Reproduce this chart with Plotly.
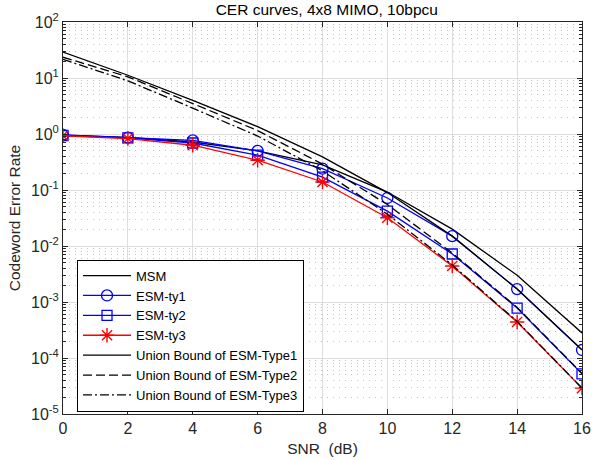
import plotly.graph_objects as go

# SNR points (dB)
snr = [0, 2, 4, 6, 8, 10, 12, 14, 16]

# Simulated codeword error rates
cer_msm = [0.95, 0.87, 0.72, 0.50, 0.28, 0.092, 0.020, 0.0030, 0.00028]
cer_esm_ty1 = [0.96, 0.86, 0.77, 0.50, 0.24, 0.072, 0.015, 0.0017, 0.000139]
cer_esm_ty2 = [0.94, 0.85, 0.69, 0.42, 0.17, 0.042, 0.0072, 0.00078, 0.000052]
cer_esm_ty3 = [0.93, 0.83, 0.63, 0.34, 0.139, 0.032, 0.0044, 0.00044, 0.000029]

# Union bounds
ub_type1 = [29, 11.2, 4.0, 1.35, 0.39, 0.09, 0.015, 0.0017, 0.00014]
ub_type2 = [23.5, 10.5, 3.5, 1.15, 0.29, 0.055, 0.0075, 0.0008, 0.000053]
ub_type3 = [21.5, 8.9, 2.9, 0.92, 0.22, 0.037, 0.0046, 0.00045, 0.000029]

y_tick_vals = [1e-5, 1e-4, 1e-3, 1e-2, 1e-1, 1e0, 1e1, 1e2]
y_tick_text = ["10<sup>-5</sup>", "10<sup>-4</sup>", "10<sup>-3</sup>", "10<sup>-2</sup>",
               "10<sup>-1</sup>", "10<sup>0</sup>", "10<sup>1</sup>", "10<sup>2</sup>"]

FONT = "Liberation Sans, Arial, Helvetica, sans-serif"
AX = "#262626"
LW = 1.3

fig = go.Figure()

fig.add_trace(go.Scatter(x=snr, y=cer_msm, mode="lines", name="MSM",
                         line=dict(color="black", width=LW)))
fig.add_trace(go.Scatter(x=snr, y=cer_esm_ty1, mode="lines+markers", name="ESM-ty1",
                         line=dict(color="#0000ff", width=LW),
                         marker=dict(symbol="circle-open", size=11, color="#0000ff",
                                     line=dict(width=1.3, color="#0000ff"))))
fig.add_trace(go.Scatter(x=snr, y=cer_esm_ty2, mode="lines+markers", name="ESM-ty2",
                         line=dict(color="#0000ff", width=LW),
                         marker=dict(symbol="square-open", size=10, color="#0000ff",
                                     line=dict(width=1.3, color="#0000ff"))))
fig.add_trace(go.Scatter(x=snr, y=cer_esm_ty3, mode="lines+markers", name="ESM-ty3",
                         line=dict(color="#ff0000", width=LW),
                         marker=dict(symbol="asterisk-open", size=12, color="#ff0000",
                                     line=dict(width=1.4, color="#ff0000"))))
fig.add_trace(go.Scatter(x=snr, y=ub_type1, mode="lines", name="Union Bound of ESM-Type1",
                         line=dict(color="black", width=LW)))
fig.add_trace(go.Scatter(x=snr, y=ub_type2, mode="lines", name="Union Bound of ESM-Type2",
                         line=dict(color="black", width=LW, dash="9px,4px")))
fig.add_trace(go.Scatter(x=snr, y=ub_type3, mode="lines", name="Union Bound of ESM-Type3",
                         line=dict(color="black", width=LW, dash="9px,3px,2px,3px")))

fig.update_layout(
    width=592, height=460,
    margin=dict(l=63, r=10, t=22, b=46, autoexpand=False),
    paper_bgcolor="white", plot_bgcolor="white",
    font=dict(family=FONT, size=15, color=AX),
    title=dict(text="CER curves, 4x8 MIMO, 10bpcu", x=0.552, xanchor="center",
               y=1 - 10 / 460, yanchor="middle", yref="container",
               font=dict(family=FONT, size=15.5, color="black")),
    showlegend=True,
    legend=dict(x=0.027, y=0.2, xanchor="left", yanchor="middle",
                bgcolor="white", bordercolor="black", borderwidth=1,
                font=dict(family=FONT, size=13, color="black"),
                itemwidth=48, tracegroupgap=0, traceorder="normal"),
)

fig.update_xaxes(
    range=[0, 16], dtick=2, tick0=0, automargin=False,
    showline=True, linecolor=AX, linewidth=1, mirror="ticks",
    ticks="inside", ticklen=5, tickcolor=AX,
    showgrid=True, gridcolor="#dedede", gridwidth=1, zeroline=False,
    tickfont=dict(family=FONT, size=16, color=AX),
    title=dict(text="SNR  (dB)", standoff=6, font=dict(family=FONT, size=15.5, color=AX)),
)

fig.update_yaxes(
    type="log", range=[-5, 2], automargin=False,
    tickvals=y_tick_vals, ticktext=y_tick_text,
    showline=True, linecolor=AX, linewidth=1, mirror="ticks",
    ticks="inside", ticklen=5, tickcolor=AX,
    showgrid=True, gridcolor="#dedede", gridwidth=1, zeroline=False,
    tickfont=dict(family=FONT, size=16, color=AX),
    minor=dict(dtick="D1", ticks="inside", ticklen=3, tickcolor=AX,
               showgrid=True, gridcolor="#c4c4c4", griddash="1px,5px", gridwidth=1),
    title=dict(text="Codeword Error Rate", standoff=6, font=dict(family=FONT, size=15.5, color=AX)),
)

fig.write_html("out.html")
